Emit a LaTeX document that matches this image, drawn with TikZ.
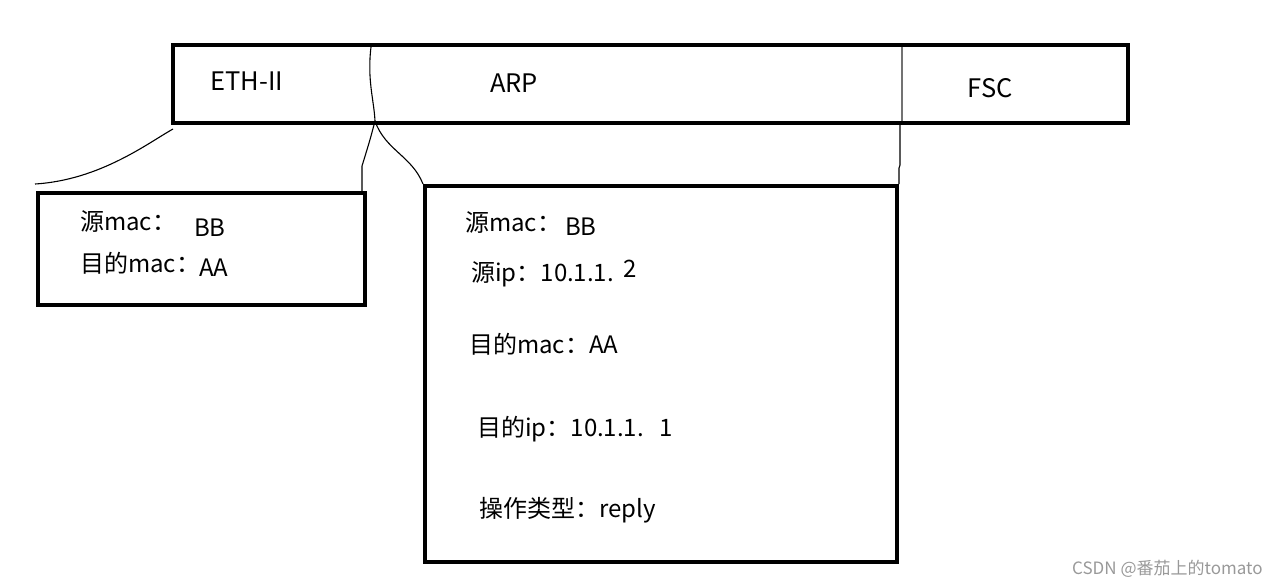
\documentclass[tikz,border=0pt]{standalone}
\usepackage{fontspec}
\setmainfont{Noto Sans CJK SC}
\begin{document}
\begin{tikzpicture}[x=1pt,y=-1pt,
  boxthick/.style={draw, line width=4pt, inner sep=0pt},
  thinline/.style={line width=1.1pt, black},
  txt/.style={anchor=base west, inner sep=0pt, font=\fontsize{24}{28}\selectfont},
  lbl/.style={inner sep=0pt, font=\fontsize{25.5}{30}\selectfont}]
\useasboundingbox (0,0) rectangle (1280,586);
% boxes
\node[boxthick, minimum width=955pt, minimum height=78pt] (frame) at (650.5,84) {};
\node[boxthick, minimum width=327pt, minimum height=112pt] (leftbox) at (201.5,249) {};
\node[boxthick, minimum width=472pt, minimum height=376pt] (rightbox) at (661,374) {};
% frame labels
\node[lbl] (eth) at (247,81) {ETH-II};
\node[lbl] (arp) at (514,83) {ARP};
\node[lbl] (fsc) at (990,88) {FSC};
% dividers
\coordinate (d1top) at (371,47);
\coordinate (split) at (375,121);
\coordinate (d2top) at (902,47);
\coordinate (d2bot) at (902,121);
\draw[thinline] (d1top) .. controls (367,80) and (374,100) .. (split);
\draw[line width=1.1pt, black!55] (d2top) -- (d2bot);
% connectors
\coordinate (c1) at (35,184);
\coordinate (c1s) at (173,129);
\coordinate (kink) at (362,166);
\draw[thinline] (c1s) .. controls (148,143) and (100,180) .. (c1);
\draw[thinline] (split) .. controls (370,140) .. (kink) -- (kink |- leftbox.north);
\draw[thinline] (split) .. controls (385,150) and (412,156) .. (rightbox.north west);
\draw[thinline] (900,125) -- (900,165) -- (899,168) -- (rightbox.north east);
% left box texts
\node[txt] (l1a) at (80,230) {源mac：};
\node[txt] (l1b) at (194,236) {BB};
\node[txt] (l2a) at (80,272) {目的mac：};
\node[txt] (l2b) at (199,276) {AA};
% right box texts
\node[txt] (r1a) at (465,231) {源mac：};
\node[txt] (r1b) at (565,235) {BB};
\node[txt] (r2a) at (471,281) {源ip：10.1.1.};
\node[txt, anchor=base west] (r2b) at (r2a.base east) [yshift=4pt, xshift=9pt] {2};
\node[txt] (r3) at (469,353) {目的mac：AA};
\node[txt] (r4) at (477,436) {目的ip：10.1.1.\,\, 1};
\node[txt] (r5) at (479,517) {操作类型：reply};
% watermark
\node[anchor=base west, inner sep=0pt, text=black!40, font=\fontsize{17}{20}\selectfont] (wm) at (1072,574) {CSDN @番茄上的tomato};
\end{tikzpicture}
\end{document}
